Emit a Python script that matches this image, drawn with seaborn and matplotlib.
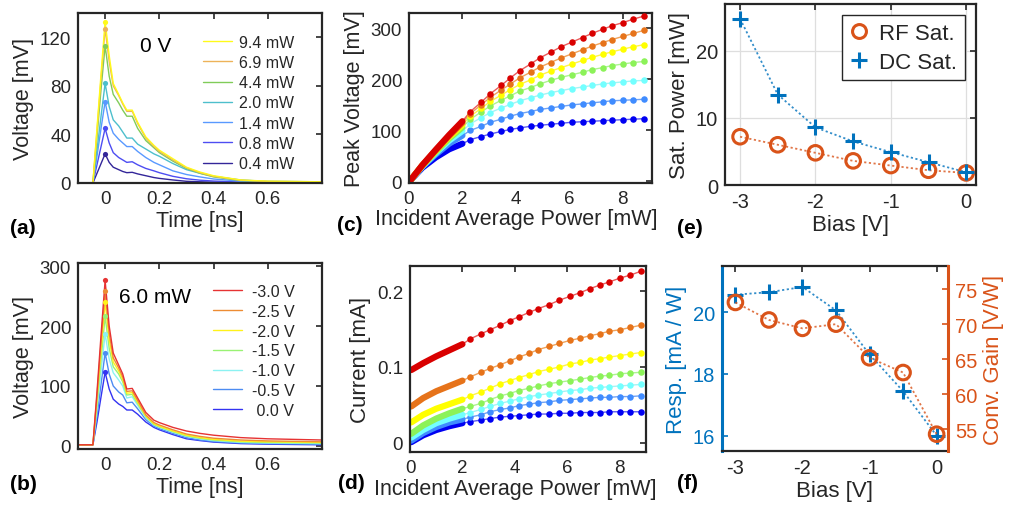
import matplotlib
matplotlib.use("Agg")
import matplotlib.pyplot as plt
from matplotlib.lines import Line2D
import seaborn as sns

# ---------------- data ----------------
# (a) pulse traces at 0 V for several incident powers
t_a = [-0.10, -0.045, -0.03, -0.015, 0.0, 0.015, 0.03, 0.05, 0.065, 0.08, 0.10,
       0.12, 0.15, 0.18, 0.20, 0.25, 0.30, 0.35, 0.40, 0.50, 0.60, 0.80]
power_labels = ['0.4 mW', '0.8 mW', '1.4 mW', '2.0 mW', '4.4 mW', '6.9 mW', '9.4 mW']
v_04 = [0, 0, 8, 16, 24, 17, 13, 11, 9.5, 8.5, 8.8, 7.5, 6, 4.5, 3.8, 2.5, 1.4, 1, 0.7, 0.4, 0.3, 0.3]
v_08 = [0, 0, 15, 30, 45, 33, 25, 21, 19, 17, 17.5, 15, 12, 10, 8.5, 5.5, 3.5, 2.3, 1.6, 0.8, 0.5, 0.5]
v_14 = [0, 0, 22, 45, 67, 50, 41, 36, 33, 30, 30, 26, 21, 17, 15, 10, 7, 5, 3.3, 1.5, 1, 0.8]
v_20 = [0, 0, 27, 55, 82, 63, 52, 47, 42, 37, 37, 32, 28, 24, 22, 16, 11, 8, 5.5, 2.5, 1.3, 1]
v_44 = [0, 0, 38, 77, 113, 88, 73, 66, 60, 55, 55, 45, 35, 29, 25, 18, 12, 8, 5, 2, 1.2, 1]
v_69 = [0, 0, 43, 86, 127, 100, 80, 72, 65, 59, 59, 49, 37, 30, 26, 19, 12.5, 8.5, 5.5, 2.3, 1.3, 1]
v_94 = [0, 0, 45, 90, 133, 105, 82, 73, 66, 60, 60, 50, 38, 31, 27, 20, 13, 9, 6, 2.5, 1.5, 1]

# (b) pulse traces at 6.0 mW for several biases
bias_labels = [' 0.0 V', '-0.5 V', '-1.0 V', '-1.5 V', '-2.0 V', '-2.5 V', '-3.0 V']
b_m00 = [2, 2, 40, 82, 123, 95, 78, 70, 66, 60, 60, 53, 40, 31, 27, 19, 12, 9, 6.5, 4, 3, 2]
b_m05 = [2, 2, 50, 103, 155, 120, 100, 90, 85, 72, 73, 62, 44, 33, 29, 21, 14, 10, 7.5, 5, 4, 3]
b_m10 = [2, 2, 61, 125, 187, 145, 122, 110, 100, 80, 82, 68, 47, 35, 31, 23, 16, 12, 9, 6, 5, 4]
b_m15 = [2, 2, 70, 144, 216, 163, 132, 120, 107, 85, 86, 71, 49, 36, 32, 24, 17, 13, 10, 7, 6, 5]
b_m20 = [2, 2, 78, 160, 240, 177, 140, 125, 111, 88, 89, 73, 50, 37, 33, 25, 18, 14, 11, 8, 7, 6]
b_m25 = [2, 2, 84, 172, 258, 188, 147, 130, 115, 91, 92, 76, 52, 39, 35, 27, 20, 16, 13, 10, 8.5, 7]
b_m30 = [2, 2, 90, 185, 276, 200, 155, 135, 120, 95, 96, 80, 56, 43, 39, 31, 25, 21, 18, 14, 12, 10]

# (c), (d) incident power sweeps
p_dense = [0.05, 0.5, 1.0, 1.5, 2.0]
p_sparse = [2.3, 2.7, 3.05, 3.45, 3.8, 4.15, 4.55, 4.9, 5.3, 5.7, 6.1, 6.5, 6.85,
            7.25, 7.6, 8.0, 8.4, 8.8]
# peak voltage [mV], bias 0 ... -3 V
pk_dense_m00 = [2, 27, 47, 63, 74]
pk_dense_m05 = [2, 29, 53, 74, 90]
pk_dense_m10 = [2, 30, 56, 80, 99]
pk_dense_m15 = [2, 31, 58, 84, 106]
pk_dense_m20 = [2, 31, 60, 87, 111]
pk_dense_m25 = [2, 32, 61, 89, 115]
pk_dense_m30 = [2, 32, 62, 91, 118]
pk_m00 = [82, 88, 93, 98, 102, 105, 108, 110, 112, 114, 116, 117, 118, 119, 120, 121, 122, 123]
pk_m05 = [100, 108, 116, 122, 128, 133, 137, 141, 144, 147, 150, 152, 154, 156, 158, 159, 160, 161]
pk_m10 = [113, 125, 135, 144, 151, 158, 164, 169, 174, 178, 182, 185, 188, 191, 193, 195, 197, 198]
pk_m15 = [122, 136, 148, 159, 168, 177, 184, 191, 198, 204, 209, 214, 219, 223, 227, 230, 233, 235]
pk_m20 = [128, 143, 157, 169, 180, 190, 199, 208, 216, 223, 230, 237, 243, 249, 254, 259, 264, 268]
pk_m25 = [133, 150, 165, 179, 191, 203, 214, 224, 233, 242, 250, 258, 265, 272, 278, 284, 290, 296]
pk_m30 = [137, 155, 172, 188, 203, 217, 230, 242, 253, 264, 273, 282, 290, 298, 305, 311, 318, 324]
# photocurrent [mA]
i_dense_m00 = [0.001, 0.010, 0.017, 0.022, 0.026]
i_dense_m05 = [0.003, 0.013, 0.021, 0.027, 0.031]
i_dense_m10 = [0.007, 0.017, 0.026, 0.032, 0.037]
i_dense_m15 = [0.012, 0.023, 0.032, 0.039, 0.045]
i_dense_m20 = [0.027, 0.037, 0.045, 0.051, 0.057]
i_dense_m25 = [0.048, 0.059, 0.068, 0.075, 0.082]
i_dense_m30 = [0.096, 0.105, 0.114, 0.122, 0.130]
i_m00 = [0.028, 0.030, 0.032, 0.034, 0.035, 0.036, 0.037, 0.038, 0.038, 0.039, 0.039, 0.040,
         0.040, 0.040, 0.041, 0.041, 0.041, 0.041]
i_m05 = [0.034, 0.037, 0.041, 0.044, 0.046, 0.049, 0.051, 0.053, 0.054, 0.056, 0.057, 0.058,
         0.059, 0.060, 0.060, 0.061, 0.061, 0.062]
i_m10 = [0.040, 0.044, 0.048, 0.052, 0.055, 0.058, 0.061, 0.063, 0.065, 0.067, 0.069, 0.070,
         0.072, 0.073, 0.074, 0.075, 0.076, 0.077]
i_m15 = [0.048, 0.052, 0.057, 0.062, 0.065, 0.069, 0.072, 0.075, 0.078, 0.080, 0.082, 0.084,
         0.086, 0.088, 0.089, 0.091, 0.092, 0.093]
i_m20 = [0.062, 0.067, 0.072, 0.078, 0.082, 0.086, 0.090, 0.094, 0.097, 0.100, 0.104, 0.106,
         0.109, 0.111, 0.113, 0.115, 0.117, 0.119]
i_m25 = [0.087, 0.093, 0.098, 0.103, 0.108, 0.113, 0.118, 0.123, 0.127, 0.131, 0.135, 0.138,
         0.141, 0.144, 0.147, 0.149, 0.152, 0.155]
i_m30 = [0.137, 0.1435, 0.149, 0.155, 0.161, 0.166, 0.172, 0.177, 0.182, 0.188, 0.193, 0.198,
         0.203, 0.208, 0.212, 0.217, 0.221, 0.226]

# (e), (f) versus bias
bias = [-3.0, -2.5, -2.0, -1.5, -1.0, -0.5, 0.0]
rf_sat = [7.2, 6.0, 4.8, 3.6, 2.9, 2.2, 1.8]
dc_sat = [24.8, 13.5, 8.6, 6.5, 4.9, 3.4, 1.9]
resp = [20.57, 20.65, 20.82, 20.06, 18.63, 17.44, 16.0]
conv_gain = [73.1, 70.6, 69.4, 70.0, 65.2, 63.1, 54.3]

# ---------------- style ----------------
sns.set_theme(style="white")
plt.rcParams['font.family'] = ['Liberation Sans', 'DejaVu Sans']
plt.rcParams['axes.unicode_minus'] = False

INK = '0.15'
BLUE = (0.0, 0.447, 0.741)
ORANGE = (0.85, 0.325, 0.098)
power_colors = [(0.20, 0.15, 0.60), (0.30, 0.30, 0.95), (0.35, 0.60, 1.00), (0.30, 0.75, 0.80),
                (0.50, 0.80, 0.35), (0.93, 0.70, 0.35), (1.00, 0.98, 0.10)]
bias_line_colors = [(0.20, 0.20, 0.95), (0.30, 0.55, 0.95), (0.55, 0.95, 0.95), (0.60, 0.95, 0.45),
                    (1.00, 0.95, 0.10), (0.93, 0.55, 0.20), (0.90, 0.20, 0.20)]
bias_mark_colors = [(0.0, 0.0, 0.95), (0.25, 0.55, 1.0), (0.45, 1.0, 1.0), (0.55, 0.95, 0.35),
                    (1.0, 1.0, 0.0), (0.90, 0.45, 0.10), (0.85, 0.0, 0.0)]

W, H = 1009, 506
fig = plt.figure(figsize=(W / 100, H / 100), dpi=100)


def box(l, t, r, b):
    return fig.add_axes([l / W, 1 - b / H, (r - l) / W, (b - t) / H])


def style(ax, size=13.5):
    for s in ax.spines.values():
        s.set_linewidth(1.6)
        s.set_color(INK)
    ax.tick_params(direction='in', top=True, right=True, length=4, width=1.2,
                   labelsize=size, colors=INK, pad=5)


def tag(x, y, s):
    fig.text(x / W, 1 - y / H, s, fontsize=15, fontweight='bold', color='black',
             va='center', ha='left')


# ---------------- (a) ----------------
ax = box(78, 14, 322, 184)
for lab, v, c in zip(power_labels, [v_04, v_08, v_14, v_20, v_44, v_69, v_94], power_colors):
    sns.lineplot(x=t_a, y=v, ax=ax, color=c, lw=1.0, label=lab)
    k = v.index(max(v))
    sns.scatterplot(x=[t_a[k]], y=[v[k]], ax=ax, color=c, s=14, linewidth=0, zorder=5)
ax.set_xlim(-0.1, 0.8)
ax.set_ylim(0, 140)
ax.set_xticks([0, 0.2, 0.4, 0.6], ['0', '0.2', '0.4', '0.6'])
ax.set_yticks([0, 40, 80, 120])
style(ax)
ax.set_xlabel('Time [ns]', fontsize=15.5, color=INK, labelpad=2)
ax.set_ylabel('Voltage [mV]', fontsize=15.5, color=INK, labelpad=4)
h, l = ax.get_legend_handles_labels()
ax.legend(h[::-1], l[::-1], loc='upper right', bbox_to_anchor=(0.92, 0.92), frameon=False,
          fontsize=11.5, handlelength=1.8, handletextpad=0.45, labelspacing=0.33, borderaxespad=0.1)
ax.text(0.255, 0.81, '0 V', transform=ax.transAxes, fontsize=15, color='black', va='center')
tag(10, 228, '(a)')

# ---------------- (b) ----------------
ax = box(78, 264, 322, 450)
for lab, v, c in zip(bias_labels, [b_m00, b_m05, b_m10, b_m15, b_m20, b_m25, b_m30], bias_line_colors):
    sns.lineplot(x=t_a, y=v, ax=ax, color=c, lw=1.0, label=lab)
    k = v.index(max(v))
    sns.scatterplot(x=[t_a[k]], y=[v[k]], ax=ax, color=c, s=14, linewidth=0, zorder=5)
ax.set_xlim(-0.1, 0.8)
ax.set_ylim(-5, 305)
ax.set_xticks([0, 0.2, 0.4, 0.6], ['0', '0.2', '0.4', '0.6'])
ax.set_yticks([0, 100, 200, 300])
style(ax)
ax.set_xlabel('Time [ns]', fontsize=15.5, color=INK, labelpad=2)
ax.set_ylabel('Voltage [mV]', fontsize=15.5, color=INK, labelpad=4)
h, l = ax.get_legend_handles_labels()
ax.legend(h[::-1], l[::-1], loc='upper right', bbox_to_anchor=(0.92, 0.93), frameon=False,
          fontsize=11.5, handlelength=1.8, handletextpad=0.6, labelspacing=0.3, borderaxespad=0.1)
ax.text(0.17, 0.82, '6.0 mW', transform=ax.transAxes, fontsize=15, color='black', va='center')
tag(10, 485, '(b)')

# ---------------- (c) ----------------
ax = box(409, 14, 652, 184)
dense_pk = [pk_dense_m00, pk_dense_m05, pk_dense_m10, pk_dense_m15, pk_dense_m20, pk_dense_m25, pk_dense_m30]
sparse_pk = [pk_m00, pk_m05, pk_m10, pk_m15, pk_m20, pk_m25, pk_m30]
for vd, vs, lc, mc in zip(dense_pk, sparse_pk, bias_line_colors, bias_mark_colors):
    sns.lineplot(x=p_dense + p_sparse, y=vd + vs, ax=ax, color=lc, lw=1.0, alpha=0.8)
    sns.lineplot(x=p_dense, y=vd, ax=ax, color=mc, lw=4.5, solid_capstyle='round')
    sns.scatterplot(x=p_sparse, y=vs, ax=ax, color=mc, s=22, linewidth=0, zorder=5)
ax.set_xlim(0, 9.1)
ax.set_ylim(-3, 330)
ax.set_xticks([0, 2, 4, 6, 8])
ax.set_yticks([0, 100, 200, 300])
style(ax)
ax.set_xlabel('Incident Average Power [mW]', fontsize=15.5, color=INK, labelpad=2)
ax.xaxis.set_label_coords(0.44, -0.15)
ax.set_ylabel('Peak Voltage [mV]', fontsize=15.5, color=INK, labelpad=4)
tag(337, 226, '(c)')

# ---------------- (d) ----------------
ax = box(410, 267, 646, 453)
dense_i = [i_dense_m00, i_dense_m05, i_dense_m10, i_dense_m15, i_dense_m20, i_dense_m25, i_dense_m30]
sparse_i = [i_m00, i_m05, i_m10, i_m15, i_m20, i_m25, i_m30]
for vd, vs, lc, mc in zip(dense_i, sparse_i, bias_line_colors, bias_mark_colors):
    sns.lineplot(x=p_dense + p_sparse, y=vd + vs, ax=ax, color=lc, lw=1.0, alpha=0.8)
    sns.lineplot(x=p_dense, y=vd, ax=ax, color=mc, lw=4.5, solid_capstyle='round')
    sns.scatterplot(x=p_sparse, y=vs, ax=ax, color=mc, s=22, linewidth=0, zorder=5)
ax.set_xlim(0, 9.0)
ax.set_ylim(-0.012, 0.233)
ax.set_xticks([0, 2, 4, 6, 8])
ax.set_yticks([0, 0.1, 0.2], ['0', '0.1', '0.2'])
style(ax)
ax.set_xlabel('Incident Average Power [mW]', fontsize=15.5, color=INK, labelpad=2)
ax.xaxis.set_label_coords(0.445, -0.14)
ax.set_ylabel('Current [mA]', fontsize=16, color=INK, labelpad=4)
tag(338, 484, '(d)')

# ---------------- (e) ----------------
ax = box(725, 5, 976, 186)
sns.lineplot(x=bias, y=dc_sat, ax=ax, color=BLUE, lw=1.3, linestyle=(0, (1.2, 1.4)), alpha=0.8)
sns.lineplot(x=bias, y=rf_sat, ax=ax, color=ORANGE, lw=1.3, linestyle=(0, (1.2, 1.4)), alpha=0.8)
sns.scatterplot(x=bias, y=rf_sat, ax=ax, marker='o', s=110, facecolor='none',
                edgecolor=ORANGE, linewidth=2.2, zorder=5)
sns.scatterplot(x=bias, y=dc_sat, ax=ax, marker='+', s=120, color=BLUE, linewidth=2.2, zorder=6)
ax.set_xlim(-3.2, 0.13)
ax.set_ylim(0, 27)
ax.set_xticks([-3, -2, -1, 0])
ax.set_yticks([0, 10, 20])
ax.grid(True, color='0.87', lw=0.9)
style(ax, size=14.5)
ax.set_xlabel('Bias [V]', fontsize=16, color=INK, labelpad=2)
ax.set_ylabel('Sat. Power [mW]', fontsize=16, color=INK, labelpad=4)
handles = [Line2D([], [], ls='none', marker='o', ms=10, mfc='none', mec=ORANGE, mew=2.2),
           Line2D([], [], ls='none', marker='+', ms=11, color=BLUE, mew=2.2)]
leg = ax.legend(handles, ['RF Sat.', 'DC Sat.'], loc='upper right', fontsize=16,
                frameon=True, fancybox=False, edgecolor=INK, framealpha=1,
                handlelength=0.8, handletextpad=0.5, borderpad=0.35, labelspacing=0.35,
                borderaxespad=0.5)
leg.get_frame().set_linewidth(1.0)
tag(677, 228, '(e)')

# ---------------- (f) ----------------
ax = box(722, 267, 948, 452)
ax2 = ax.twinx()
sns.lineplot(x=bias, y=resp, ax=ax, color=BLUE, lw=1.3, linestyle=(0, (1.2, 1.4)), alpha=0.8)
sns.scatterplot(x=bias, y=resp, ax=ax, marker='+', s=120, color=BLUE, linewidth=2.2, zorder=6)
sns.lineplot(x=bias, y=conv_gain, ax=ax2, color=ORANGE, lw=1.3, linestyle=(0, (1.2, 1.4)), alpha=0.8)
sns.scatterplot(x=bias, y=conv_gain, ax=ax2, marker='o', s=110, facecolor='none',
                edgecolor=ORANGE, linewidth=2.2, zorder=5)
ax.set_xlim(-3.2, 0.17)
ax.set_ylim(15.5, 21.5)
ax2.set_ylim(51.9, 78.3)
ax.set_xticks([-3, -2, -1, 0])
ax.set_yticks([16, 18, 20])
ax2.set_yticks([55, 60, 65, 70, 75])
for s in ax.spines.values():
    s.set_linewidth(1.6)
    s.set_color(INK)
ax.spines['left'].set_color(BLUE)
ax.spines['left'].set_linewidth(2.2)
ax.spines['right'].set_visible(False)
for name in ['left', 'top', 'bottom']:
    ax2.spines[name].set_visible(False)
ax2.spines['right'].set_color(ORANGE)
ax2.spines['right'].set_linewidth(2.2)
ax.tick_params(axis='x', direction='in', top=True, length=4, width=1.2, labelsize=14.5,
               colors=INK, pad=5)
ax.tick_params(axis='y', direction='in', right=False, length=4, width=1.2, labelsize=14.5,
               colors=BLUE, pad=5)
ax2.tick_params(axis='y', direction='in', length=4, width=1.2, labelsize=14.5,
                colors=ORANGE, pad=5)
ax.set_xlabel('Bias [V]', fontsize=16, color=INK, labelpad=2)
ax.set_ylabel('Resp. [mA / W]', fontsize=16, color=BLUE, labelpad=4)
ax2.set_ylabel('Conv. Gain [V/W]', fontsize=16, color=ORANGE, labelpad=4)
tag(677, 484, '(f)')

fig.savefig('out.png', dpi=100)
